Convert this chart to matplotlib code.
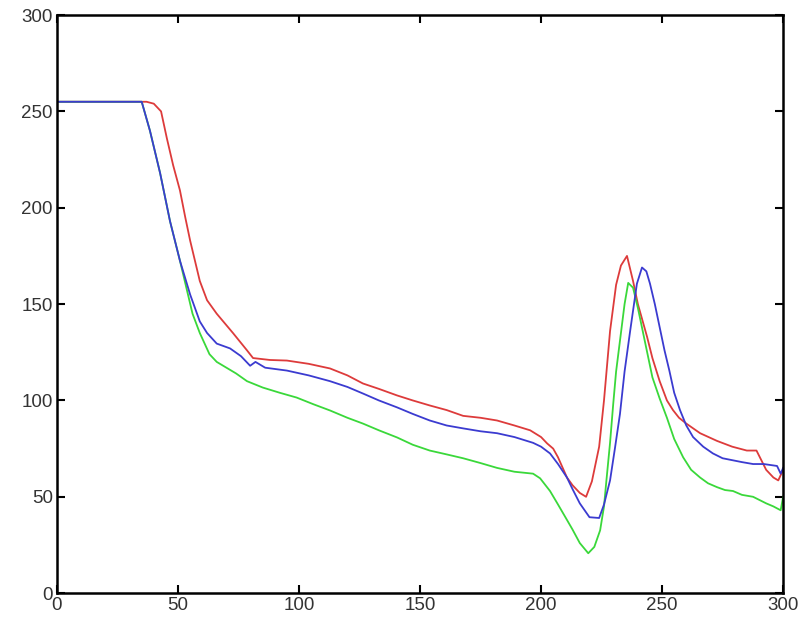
import matplotlib
matplotlib.use("Agg")
import matplotlib.pyplot as plt

# values
red_x = [0, 37, 40, 43, 45.4, 48, 50.8, 53, 55, 59, 62, 66, 72.7, 78.5, 81, 88, 95, 104,
         112.8, 120, 126.4, 133, 140.5, 147, 154, 161, 167.8, 175, 181.8, 189, 195.5, 200,
         202.5, 205, 207, 210.7, 213, 216, 218.6, 221, 224, 226, 228.5, 231, 233, 235.5,
         238, 240, 243.8, 246, 249, 252, 254.5, 257, 260, 265.7, 272.7, 279, 285, 289, 293,
         296, 298, 300]
red_y = [255, 255, 254, 250, 236, 222, 209, 195, 183, 162, 152, 145, 135, 126, 122, 121,
         120.7, 119, 116.6, 113, 108.8, 106, 102.6, 100, 97.4, 95, 92, 91, 89.6, 87, 84.5,
         81, 77.7, 75, 70.5, 60, 56, 52, 50, 58, 76, 100, 136, 160, 170, 175, 162, 150, 133,
         122, 110, 100, 95, 91, 88, 83, 79, 76, 74, 74, 64, 60, 58.5, 64]

green_x = [0, 35, 38.4, 42.6, 46.7, 50.8, 56, 59, 63, 66, 70, 74, 78.5, 85, 92, 99, 106,
           112.8, 120, 126.4, 133, 140.5, 147, 154, 161, 167.8, 175, 181.8, 189, 196.7,
           199.6, 203.7, 207, 210.7, 213, 216, 219.5, 222, 224.4, 226, 227, 228.5, 229.8,
           231, 232.6, 234.5, 236, 238, 240, 242, 244, 246, 249, 252, 255, 258.7, 262,
           265.7, 269, 272.7, 276, 279.3, 283, 287.6, 293, 296, 299, 300]
green_y = [255, 255, 240, 218, 193, 172.5, 145, 135, 124, 120, 117, 114, 110, 106.7, 104,
           101.5, 98, 94.8, 91, 88, 84.5, 80.8, 77, 74, 72, 70, 67.5, 65, 63, 62, 59.6, 53,
           46, 38, 33, 26, 20.7, 24, 32.6, 45, 58.5, 78, 98, 115, 131, 150, 161, 158.5, 148,
           136, 124, 112, 101, 91, 80, 70.5, 64, 60, 57, 55, 53.5, 53, 51, 50, 46.6, 45, 43, 50]

blue_x = [0, 35, 38.4, 42.6, 46.7, 50.8, 55, 59, 62, 66, 71.5, 76, 79.8, 82, 86, 95, 104,
          112.8, 120, 126.4, 133, 140.5, 147, 154, 161, 167.8, 175, 181.8, 189, 196.7, 200,
          203.7, 207, 210.7, 213, 216, 220, 224, 226, 228.5, 230.5, 232.6, 234.5, 236.8,
          239.6, 241.7, 243.5, 245, 247, 249, 251, 253, 255, 257.4, 260, 262.8, 267, 271,
          275, 279, 283, 287.6, 292, 297.5, 299, 300]
blue_y = [255, 255, 240, 218, 193, 172.5, 155, 141, 135, 129.5, 127, 123, 118, 120, 117,
          115.5, 113, 110, 107, 103.6, 100, 96.4, 93, 89.6, 87, 85.5, 84, 83, 81, 78, 76,
          72.5, 67, 60, 54, 46.6, 39.4, 39, 46, 58.5, 75, 93, 115, 136, 160.6, 169, 167,
          160.6, 150, 138, 126, 115.5, 104, 95, 87, 81, 76, 72.5, 70, 69, 68, 67, 67, 66,
          62, 65]

plt.rcParams['font.family'] = ['Liberation Sans', 'DejaVu Sans']

fig = plt.figure(figsize=(8.05, 6.27), dpi=100)
ax = fig.add_axes([0.0708, 0.054, 0.902, 0.922])

ax.plot(red_x, red_y, color='#dd3b3b', lw=1.3)
ax.plot(green_x, green_y, color='#3ad83a', lw=1.3)
ax.plot(blue_x, blue_y, color='#3b3bd0', lw=1.3)

ax.set_xlim(0, 300)
ax.set_ylim(0, 300)
ax.set_xticks(range(0, 301, 50))
ax.set_yticks(range(0, 301, 50))
ax.tick_params(direction='in', top=True, right=True, length=6, width=1.5,
               labelsize=13.5, labelcolor='#333333', pad=3)
for s in ax.spines.values():
    s.set_linewidth(1.8)

plt.savefig('out.png', dpi=100)
